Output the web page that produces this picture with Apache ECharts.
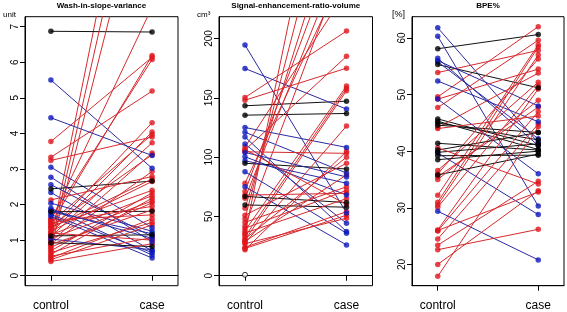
<!DOCTYPE html>
<html>
<head>
<meta charset="utf-8">
<script src="https://cdn.jsdelivr.net/npm/echarts@6/dist/echarts.min.js"></script>
<style>
  html, body { margin: 0; padding: 0; background: #fff; }
  #main { width: 567px; height: 312px; }
</style>
</head>
<body>
<div id="main"></div>
<script>
var chartDom = document.getElementById('main');
var myChart = echarts.init(chartDom);
var option;

// x categories
const groups = ['control', 'case'];

// Wash-in-slope-variance (unit)
const washControl = [1.55, 5.50, 3.77, 1.00, 6.87, 3.33, 4.44, 0.75, 3.24, 3.05, 0.85, 1.60, 2.44, 2.77, 1.45, 1.30, 2.56, 1.20, 1.50, 2.34, 1.10, 0.95, 2.13, 2.04, 1.40, 0.90, 1.80, 1.90, 1.35, 1.25, 0.70, 1.80, 1.15, 0.60, 1.72, 1.05, 0.80, 1.12, 1.57, 1.67, 0.50, 0.65, 1.03, 0.45, 0.55, 0.93, 1.20, 0.40, 1.48, 0.88, 1.38, 1.85];
const washCase    = [7.55, 3.02, 6.14, 15.0, 6.85, 5.19, 3.38, 12.0, 3.90, 1.35, 13.5, 6.08, 2.66, 0.95, 6.19, 4.30, 1.10, 4.04, 3.97, 0.70, 3.74, 3.45, 2.79, 1.25, 3.40, 2.93, 1.81, 0.58, 2.72, 2.65, 2.33, 1.18, 2.25, 2.18, 0.65, 2.10, 2.05, 1.15, 1.71, 0.50, 1.60, 1.50, 0.73, 1.43, 1.07, 0.82, 1.00, 0.90, 1.95, 1.85, 2.40, 1.05];
const washGroup   = 'rbrrkrbrrbrrkbrrbrrbrrrbrrkbrrrbrrbrrkrbrrbrrkrrrrrb';
const washTicks = [0, 1, 2, 3, 4, 5, 6, 7];

// Signal-enhancement-ratio-volume (cm3)
const serControl = [150.3, 194.5, 148.0, 143.3, 174.7, 108.5, 135.4, 106.0, 125.0, 78.0, 121.0, 71.0, 65.3, 117.0, 57.0, 48.0, 111.0, 42.0, 35.0, 104.5, 100.3, 94.8, 38.0, 87.7, 33.0, 30.0, 75.1, 27.5, 66.9, 21.9, 59.7, 51.0, 104.0, 45.0, 40.0, 97.0, 68.0, 24.0, 23.0, 27.0, 106.5, 31.0, 36.0, 29.0];
const serCase    = [206.3, 53.0, 175.0, 147.2, 140.5, 240.0, 136.8, 185.0, 108.2, 260.0, 86.6, 300.0, 280.0, 37.3, 330.0, 380.0, 44.3, 270.0, 450.0, 103.2, 68.1, 90.0, 160.0, 35.9, 158.0, 156.0, 26.0, 126.2, 61.7, 104.9, 57.8, 94.8, 83.3, 75.0, 72.0, 78.0, 69.5, 54.0, 51.0, 48.5, 60.0, 100.0, 65.0, 85.0];
const serGroup   = 'rbrkbrkrbrbrrbrrbrrrbkrbrrbrkrkrbrrbrrrrrrrr';
const serMissing = [0.8];
const serTicks = [0, 50, 100, 150, 200];

// BPE%
const bpeControl = [58.1, 61.8, 49.6, 60.3, 53.9, 55.3, 56.4, 47.7, 56.0, 45.7, 44.2, 55.8, 45.3, 36.6, 52.4, 45.0, 36.0, 49.2, 44.6, 35.5, 41.4, 32.2, 39.7, 40.2, 31.0, 39.8, 30.5, 39.2, 30.1, 38.5, 26.1, 35.8, 25.9, 29.4, 24.5, 23.4, 22.6, 20.0, 17.9, 44.0, 40.6, 26.0, 49.2, 35.0];
const bpeCase    = [60.6, 41.5, 62.0, 30.3, 57.8, 51.2, 41.0, 59.6, 48.0, 41.0, 53.8, 42.2, 40.3, 52.2, 45.2, 42.0, 56.3, 36.0, 43.3, 47.8, 40.2, 58.8, 28.8, 43.3, 58.4, 41.3, 57.0, 39.3, 51.6, 40.0, 51.0, 39.5, 47.0, 20.8, 44.8, 34.7, 26.2, 33.0, 44.3, 46.2, 34.2, 32.8, 54.5, 49.0];
const bpeGroup   = 'kbrbrkbrbkrbkrbkrbkrkrbkrkrkrkrkrbrrrrrrrrrr';
const bpeTicks = [20, 30, 40, 50, 60];

const lineColor = { r: '#d62a2e', b: '#2a2aa2', k: '#111111' };
const pointColor = { r: '#e0151d', b: '#0c18bc', k: '#000000' };
const font = 'Liberation Sans, Arial, sans-serif';

const panels = [
  { title: 'Wash-in-slope-variance', unit: 'unit', unitLeft: 3, left: 25, width: 153, min: -0.28, max: 7.28, ticks: washTicks, c: washControl, k: washCase, g: washGroup },
  { title: 'Signal-enhancement-ratio-volume', unit: 'cm³', unitLeft: 197, left: 219, width: 153.5, min: -8.4, max: 218.4, ticks: serTicks, c: serControl, k: serCase, g: serGroup },
  { title: 'BPE%', unit: '[%]', unitLeft: 392, left: 412, width: 152, min: 16.24, max: 63.76, ticks: bpeTicks, c: bpeControl, k: bpeCase, g: bpeGroup }
];

const gridTop = 16.7, gridHeight = 269;
const grids = [], xAxes = [], yAxes = [], series = [], titles = [];

panels.forEach(function (p, i) {
  grids.push({ left: p.left, top: gridTop, width: p.width, height: gridHeight, show: true, borderColor: '#000', borderWidth: 1, backgroundColor: '#fff' });
  xAxes.push({
    gridIndex: i, type: 'value', min: 0.744, max: 2.256,
    axisLine: { show: true, lineStyle: { color: '#000', width: 1 } },
    axisTick: { show: true, length: 5, customValues: [1, 2], lineStyle: { color: '#000' } },
    axisLabel: { customValues: [1, 2], margin: 14, fontSize: 12, color: '#000', fontFamily: font,
      formatter: function (v) { return groups[Math.round(v) - 1]; } },
    splitLine: { show: false }
  });
  yAxes.push({
    gridIndex: i, type: 'value', min: p.min, max: p.max,
    axisLine: { show: true, lineStyle: { color: '#000', width: 1 } },
    axisTick: { show: true, length: 5, customValues: p.ticks, lineStyle: { color: '#000' } },
    axisLabel: { customValues: p.ticks, rotate: 90, margin: 5, fontSize: 10, color: '#000', fontFamily: font },
    splitLine: { show: false }
  });
  titles.push({ text: p.title, left: p.left + p.width / 2, top: 2, padding: 0, textAlign: 'center',
    textStyle: { fontSize: 8, fontWeight: 'bold', color: '#000', fontFamily: font } });
  titles.push({ text: p.unit, left: p.unitLeft, top: i === 2 ? 10 : 11, padding: 0, textAlign: 'left',
    textStyle: { fontSize: i === 2 ? 9 : 8, fontWeight: 'normal', color: '#000', fontFamily: font } });

  // paired segments
  p.c.forEach(function (cv, j) {
    series.push({
      type: 'line', xAxisIndex: i, yAxisIndex: i, silent: true, symbol: 'none', z: 2,
      data: [[1, cv], [2, p.k[j]]],
      lineStyle: { color: lineColor[p.g[j]], width: 1 }
    });
  });
  // points per group
  ['r', 'b', 'k'].forEach(function (g) {
    const pts = [];
    p.c.forEach(function (cv, j) {
      if (p.g[j] === g) { pts.push([1, cv]); pts.push([2, p.k[j]]); }
    });
    series.push({
      type: 'scatter', xAxisIndex: i, yAxisIndex: i, silent: true, z: 3,
      symbol: 'circle', symbolSize: 5.5, data: pts,
      itemStyle: { color: pointColor[g] }
    });
  });
});

// control value without a case value
series.push({
  type: 'scatter', xAxisIndex: 1, yAxisIndex: 1, silent: true, z: 3,
  symbol: 'circle', symbolSize: 5,
  data: serMissing.map(function (v) { return [1, v]; }),
  itemStyle: { color: '#fff', borderColor: '#000', borderWidth: 1 }
});

option = {
  animation: false,
  backgroundColor: '#fff',
  title: titles,
  grid: grids,
  xAxis: xAxes,
  yAxis: yAxes,
  series: series
};

option && myChart.setOption(option);
</script>
</body>
</html>
